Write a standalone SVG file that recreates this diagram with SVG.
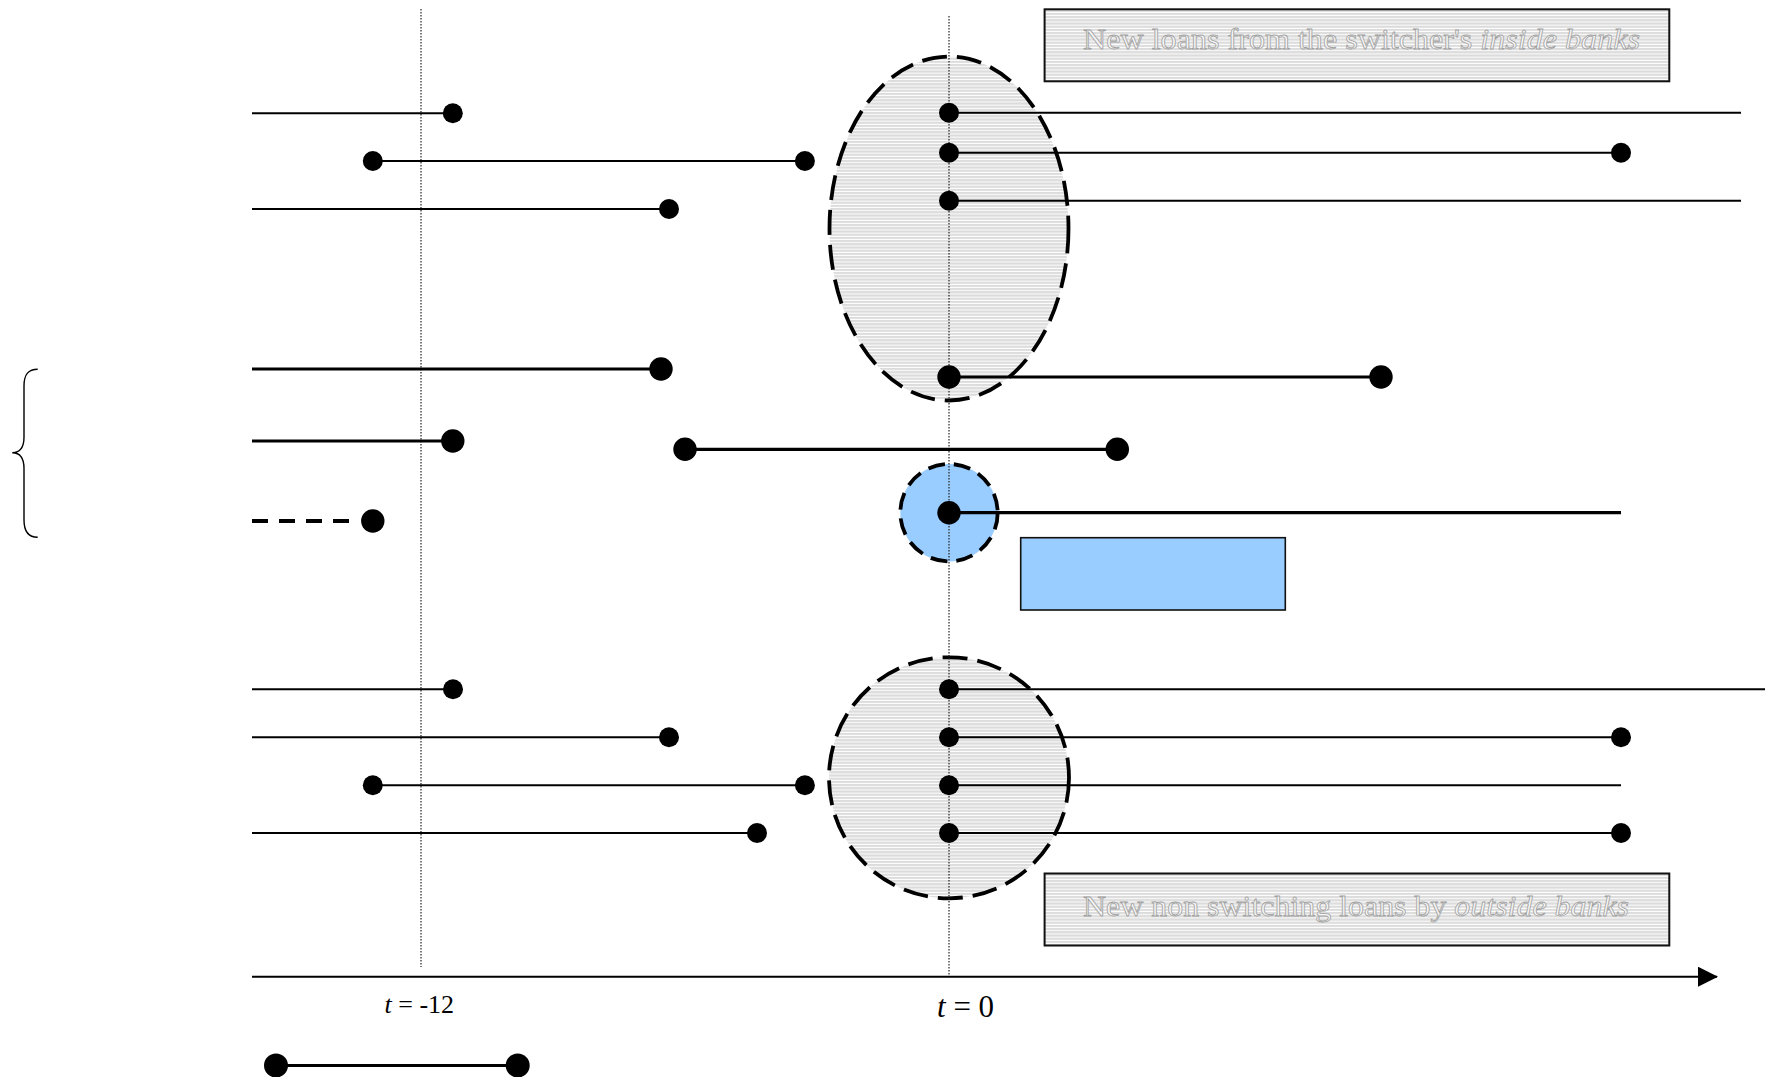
<svg xmlns="http://www.w3.org/2000/svg" width="1765" height="1077" viewBox="0 0 1765 1077">
  <defs>
    <pattern id="hatch" patternUnits="userSpaceOnUse" width="12" height="3.2">
      <rect width="12" height="3.2" fill="#dcdcdc"/>
      <rect y="2.2" width="12" height="1" fill="#ffffff"/>
    </pattern>
    <marker id="arrow" viewBox="0 0 20 20" refX="19" refY="10" markerWidth="20" markerHeight="20" markerUnits="userSpaceOnUse" orient="auto">
      <path d="M0,0 L20,10 L0,20 Z" fill="#000"/>
    </marker>
  </defs>
  <style>
    .thin { stroke: #000; stroke-width: 2; fill: none; }
    .thick { stroke: #000; stroke-width: 3.2; fill: none; }
    .dash { stroke: #000; stroke-width: 4; fill: none; stroke-dasharray: 16 11; }
    .dot { fill: #000; }
    .guide { stroke: #222; stroke-width: 1.2; fill: none; stroke-dasharray: 1.5 1.5; }
    .cluster { fill: url(#hatch); stroke: #000; stroke-width: 3.8; stroke-dasharray: 25 10; }
    .label-box { fill: url(#hatch); stroke: #111; stroke-width: 2; }
    .box-text { font-family: "Liberation Serif", "Times New Roman", serif; font-size: 30px; fill: #f6f6f6; stroke: #a2a2a2; stroke-width: 0.8; }
    .axis-text { font-family: "Liberation Serif", "Times New Roman", serif; fill: #000; }
  </style>

  <rect width="1765" height="1077" fill="#fff"/>

  <!-- shaded clusters of loans starting at t = 0 -->
  <g id="cluster-inside">
    <ellipse cx="949" cy="228.5" rx="119.5" ry="172" class="cluster"/>
  </g>
  <g id="cluster-outside">
    <ellipse cx="949" cy="777.8" rx="120" ry="120.5" class="cluster"/>
  </g>
  <g id="switcher-loan">
    <circle cx="949" cy="512.7" r="48.7" fill="#99ccff" stroke="#000" stroke-width="3.8" stroke-dasharray="17 9"/>
  </g>

  <!-- time guides -->
  <g id="guides">
    <line x1="421" y1="9" x2="421" y2="967" class="guide"/>
    <line x1="949" y1="16" x2="949" y2="975" class="guide"/>
  </g>

  <!-- loan spells -->
  <g id="connectors">
    <!-- upper group, left side -->
    <line x1="252" y1="113.3" x2="452.8" y2="113.3" class="thin"/>
    <line x1="372.8" y1="161" x2="804.9" y2="161" class="thin"/>
    <line x1="252" y1="209" x2="669" y2="209" class="thin"/>
    <!-- upper group, right side -->
    <line x1="949" y1="112.7" x2="1741" y2="112.7" class="thin"/>
    <line x1="949" y1="152.7" x2="1621" y2="152.7" class="thin"/>
    <line x1="949" y1="200.7" x2="1741" y2="200.7" class="thin"/>

    <!-- switcher's history -->
    <line x1="252" y1="369" x2="661" y2="369" class="thick"/>
    <line x1="949" y1="377" x2="1381" y2="377" class="thick"/>
    <line x1="252" y1="441" x2="452.8" y2="441" class="thick"/>
    <line x1="685" y1="449.3" x2="1117.3" y2="449.3" class="thick"/>
    <line x1="252" y1="521" x2="360" y2="521" class="dash"/>
    <line x1="949" y1="512.7" x2="1621" y2="512.7" class="thick"/>

    <!-- lower group -->
    <line x1="252" y1="689.3" x2="453" y2="689.3" class="thin"/>
    <line x1="252" y1="737.3" x2="669" y2="737.3" class="thin"/>
    <line x1="372.8" y1="785.3" x2="804.9" y2="785.3" class="thin"/>
    <line x1="252" y1="833" x2="757" y2="833" class="thin"/>
    <line x1="949" y1="689.3" x2="1765" y2="689.3" class="thin"/>
    <line x1="949" y1="737.3" x2="1621" y2="737.3" class="thin"/>
    <line x1="949" y1="785.3" x2="1621" y2="785.3" class="thin"/>
    <line x1="949" y1="833" x2="1621" y2="833" class="thin"/>

    <!-- time axis -->
    <line x1="252" y1="976.7" x2="1717" y2="976.7" stroke="#000" stroke-width="2" marker-end="url(#arrow)"/>

    <!-- legend spell -->
    <line x1="276" y1="1065.5" x2="517.7" y2="1065.5" class="thick" stroke-width="4"/>
  </g>

  <!-- loan start / end points -->
  <g id="points">
    <circle cx="452.8" cy="113.3" r="10" class="dot"/>
    <circle cx="372.8" cy="161" r="10" class="dot"/>
    <circle cx="804.9" cy="161" r="10" class="dot"/>
    <circle cx="669" cy="209" r="10" class="dot"/>
    <circle cx="949" cy="112.7" r="10" class="dot"/>
    <circle cx="949" cy="152.7" r="10" class="dot"/>
    <circle cx="1621" cy="152.7" r="10" class="dot"/>
    <circle cx="949" cy="200.7" r="10" class="dot"/>

    <circle cx="661" cy="369" r="11.7" class="dot"/>
    <circle cx="949" cy="377" r="11.7" class="dot"/>
    <circle cx="1381" cy="377" r="11.7" class="dot"/>
    <circle cx="452.8" cy="441" r="11.7" class="dot"/>
    <circle cx="685" cy="449.3" r="11.7" class="dot"/>
    <circle cx="1117.3" cy="449.3" r="11.7" class="dot"/>
    <circle cx="372.8" cy="521" r="11.7" class="dot"/>
    <circle cx="949" cy="512.7" r="11.7" class="dot"/>

    <circle cx="453" cy="689.3" r="10" class="dot"/>
    <circle cx="669" cy="737.3" r="10" class="dot"/>
    <circle cx="372.8" cy="785.3" r="10" class="dot"/>
    <circle cx="804.9" cy="785.3" r="10" class="dot"/>
    <circle cx="757" cy="833" r="10" class="dot"/>
    <circle cx="949" cy="689.3" r="10" class="dot"/>
    <circle cx="949" cy="737.3" r="10" class="dot"/>
    <circle cx="1621" cy="737.3" r="10" class="dot"/>
    <circle cx="949" cy="785.3" r="10" class="dot"/>
    <circle cx="949" cy="833" r="10" class="dot"/>
    <circle cx="1621" cy="833" r="10" class="dot"/>

    <circle cx="276" cy="1065.5" r="12" class="dot"/>
    <circle cx="517.7" cy="1065.5" r="12" class="dot"/>
  </g>

  <!-- label boxes -->
  <g id="box-inside">
    <rect x="1044.6" y="9.3" width="624.7" height="72" class="label-box"/>
    <text x="1083" y="49" class="box-text" textLength="557" lengthAdjust="spacingAndGlyphs">New loans from the switcher's <tspan font-style="italic">inside banks</tspan></text>
  </g>
  <g id="box-outside">
    <rect x="1044.6" y="873.5" width="624.7" height="72" class="label-box"/>
    <text x="1083" y="916" class="box-text" textLength="546" lengthAdjust="spacingAndGlyphs">New non switching loans by <tspan font-style="italic">outside banks</tspan></text>
  </g>
  <g id="box-switcher">
    <rect x="1020.7" y="537.7" width="264.6" height="72.3" fill="#99ccff" stroke="#111" stroke-width="1.6"/>
  </g>

  <!-- brace grouping the switcher's loans -->
  <g id="brace">
    <path d="M37.7,369.3 C28.5,369.3 24,374 24,386 L24,437 C24,447 20,452.7 12.3,452.7 C20,452.7 24,458.5 24,468.5 L24,520 C24,532 28.5,537.3 37.7,537.3" fill="none" stroke="#000" stroke-width="1.4"/>
  </g>

  <!-- axis labels -->
  <g id="axis-labels">
    <text x="384.5" y="1012.7" class="axis-text" font-size="26"><tspan font-style="italic">t</tspan> = -12</text>
    <text x="937" y="1017" class="axis-text" font-size="31"><tspan font-style="italic">t</tspan> = 0</text>
  </g>
</svg>
